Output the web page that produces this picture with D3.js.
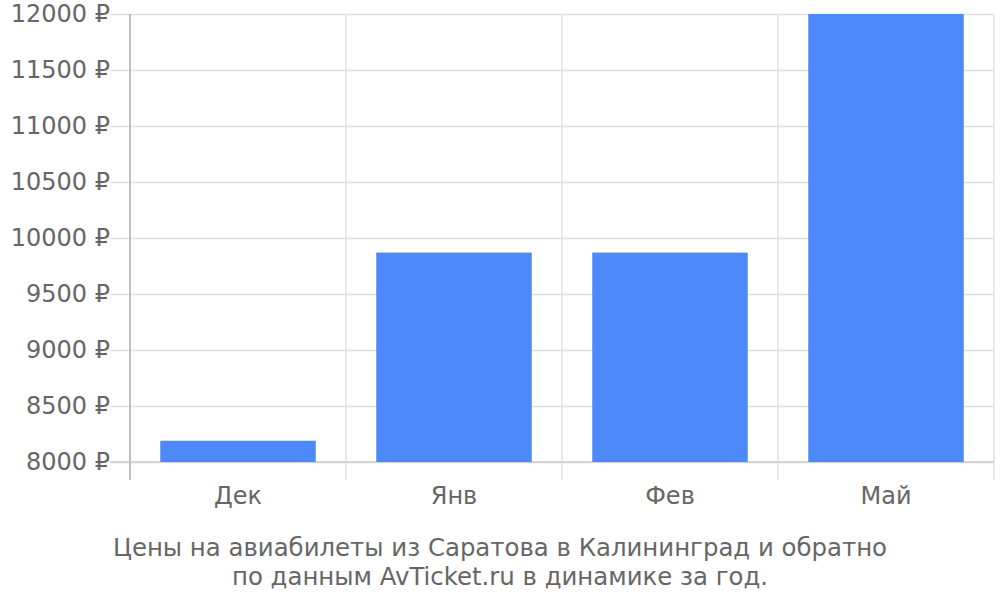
<!DOCTYPE html>
<html>
<head>
<meta charset="utf-8">
<script src="https://cdn.jsdelivr.net/npm/d3@7"></script>
<style>
  html, body { margin: 0; padding: 0; background: #fff; overflow: hidden; }
  svg { display: block; }
  text { font-family: "DejaVu Sans", sans-serif; fill: #666; }
</style>
</head>
<body>
<svg id="chart"></svg>
<script>
const months = ["Дек", "Янв", "Фев", "Май"];
const prices = [8190, 9870, 9870, 12000];
const yTicks = [8000, 8500, 9000, 9500, 10000, 10500, 11000, 11500, 12000];
const titleLines = [
    "Цены на авиабилеты из Саратова в Калининград и обратно",
    "по данным AvTicket.ru в динамике за год."
];

const width = 1000, height = 600;
const margin = { top: 14, right: 6, bottom: 138, left: 130 };
const innerWidth = width - margin.left - margin.right;
const innerHeight = height - margin.top - margin.bottom;

const svg = d3.select("#chart").attr("width", width).attr("height", height);
const g = svg.append("g").attr("transform", `translate(${margin.left},${margin.top})`);

const x = d3.scaleBand().domain(months).range([0, innerWidth])
    .paddingInner(0.28).paddingOuter(0.14);
const y = d3.scaleLinear().domain([8000, 12000]).range([innerHeight, 0]);

// horizontal gridlines + y labels
const yAxis = g.append("g")
    .attr("transform", "translate(-20,0)")
    .call(d3.axisLeft(y).tickValues(yTicks).tickSize(-innerWidth - 20).tickPadding(0)
        .tickFormat(d => d + " ₽"));
yAxis.select(".domain").remove();
yAxis.selectAll("line").attr("stroke", "#e0e0e0").attr("stroke-width", 1.5);
yAxis.selectAll("text")
    .attr("x", 0)
    .attr("fill", "#666")
    .style("font-size", "24px")
    .style("font-family", "DejaVu Sans, sans-serif");

// vertical category boundaries
const bounds = [0, 1, 2, 3, 4].map(i => i * innerWidth / months.length);
g.selectAll(".vgrid").data(bounds).enter().append("line")
    .attr("x1", d => d).attr("x2", d => d)
    .attr("y1", 0).attr("y2", innerHeight + 18)
    .attr("stroke", (d, i) => i === 0 ? "#aaa" : "#e0e0e0")
    .attr("stroke-width", 1.5);

// bottom axis line
g.append("line")
    .attr("x1", -20).attr("x2", innerWidth)
    .attr("y1", innerHeight).attr("y2", innerHeight)
    .attr("stroke", "#ccc").attr("stroke-width", 1.5);

// bars
g.selectAll(".bar").data(prices).enter().append("rect")
    .attr("x", (d, i) => x(months[i]))
    .attr("width", x.bandwidth())
    .attr("y", d => y(d))
    .attr("height", d => innerHeight - y(d))
    .attr("fill", "#4d89f9");

// category labels
g.selectAll(".xlab").data(months).enter().append("text")
    .attr("x", d => x(d) + x.bandwidth() / 2)
    .attr("y", innerHeight + 42)
    .attr("text-anchor", "middle")
    .style("font-size", "24px")
    .text(d => d);

// title
svg.selectAll(".title").data(titleLines).enter().append("text")
    .attr("x", 500)
    .attr("y", (d, i) => 556 + i * 29)
    .attr("text-anchor", "middle")
    .style("font-size", "24.4px")
    .text(d => d);
</script>
</body>
</html>
